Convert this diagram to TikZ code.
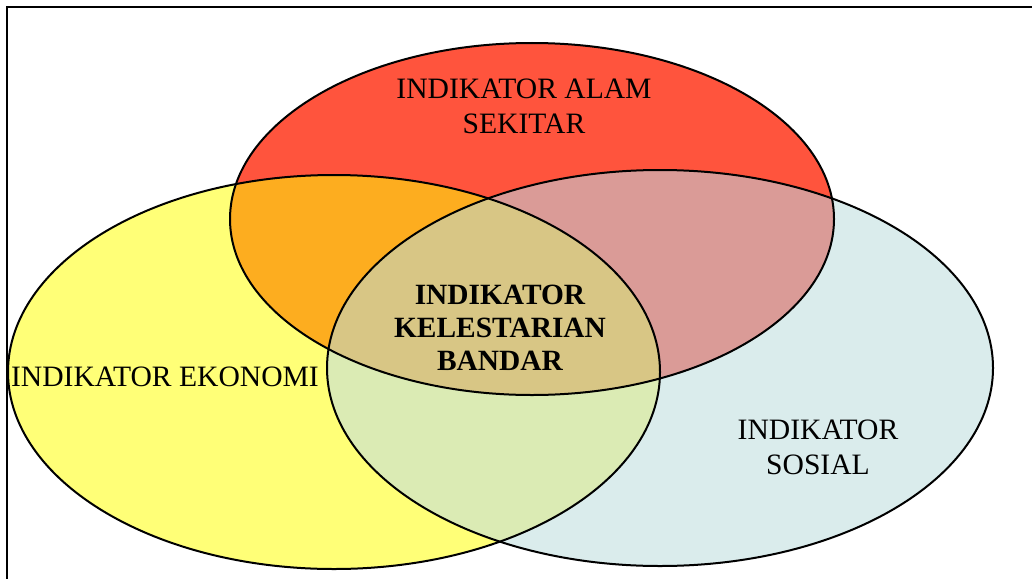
\documentclass[tikz,border=0pt]{standalone}
\usepackage{fontspec}
\setmainfont{Liberation Serif}
\definecolor{cRed}{HTML}{FF543D}
\definecolor{cYel}{HTML}{FFFF77}
\definecolor{cBlu}{HTML}{DAECEC}
\definecolor{cOra}{HTML}{FDAD1F}
\definecolor{cPnk}{HTML}{DA9B97}
\definecolor{cGrn}{HTML}{DBEBB4}
\definecolor{cTan}{HTML}{D8C685}
\newcommand{\ellYel}{(334,372) ellipse [x radius=326, y radius=197]}
\newcommand{\ellBlu}{(660,368) ellipse [x radius=333, y radius=198]}
\newcommand{\ellRed}{(532,219) ellipse [x radius=302, y radius=176]}
\begin{document}
\begin{tikzpicture}[x=1pt,y=-1pt,
  outline/.style={draw=black, line width=2pt},
  lbl/.style={font=\fontsize{29.6}{35}\selectfont, align=center, inner sep=0pt},
  blbl/.style={font=\fontsize{29.4}{33}\selectfont\bfseries, align=center, inner sep=0pt}]
\useasboundingbox (0,0) rectangle (1032,578);
\fill[white] (0,0) rectangle (1032,578);
% frame
\draw[line width=2pt] (7,580) -- (7,7) -- (1034,7);
% base fills
\fill[cYel] \ellYel;
\fill[cBlu] \ellBlu;
\begin{scope}
  \clip \ellYel;
  \fill[cGrn] \ellBlu;
\end{scope}
\fill[cRed] \ellRed;
\begin{scope}
  \clip \ellRed;
  \fill[cOra] \ellYel;
  \fill[cPnk] \ellBlu;
  \clip \ellYel;
  \fill[cTan] \ellBlu;
\end{scope}
% outlines
\draw[outline] \ellYel;
\draw[outline] \ellBlu;
\draw[outline] \ellRed;
% labels
\node[lbl] (alam) at (524,106) {INDIKATOR ALAM\\SEKITAR};
\node[lbl] (eko) at (165,377) {INDIKATOR EKONOMI};
\node[lbl] (sos) at (818,447) {INDIKATOR\\SOSIAL};
\node[blbl] (kel) at (500,328) {INDIKATOR\\KELESTARIAN\\BANDAR};
\end{tikzpicture}
\end{document}
